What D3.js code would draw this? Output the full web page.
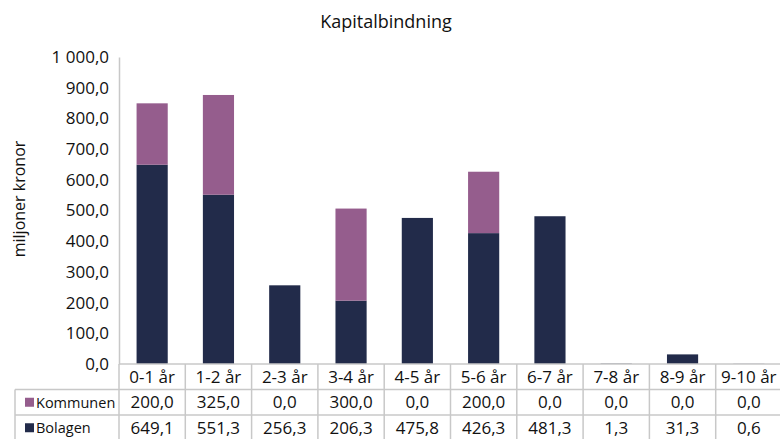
<!DOCTYPE html>
<html>
<head>
<meta charset="utf-8">
<script src="https://cdn.jsdelivr.net/npm/d3@7"></script>
<style>
  body { margin: 0; background: #fff; }
  text { font-family: "Open Sans", sans-serif; fill: #111; }
</style>
</head>
<body>
<script>
// data
var categories = ["0-1 år", "1-2 år", "2-3 år", "3-4 år", "4-5 år", "5-6 år", "6-7 år", "7-8 år", "8-9 år", "9-10 år"];
var bolagen = [649.1, 551.3, 256.3, 206.3, 475.8, 426.3, 481.3, 1.3, 31.3, 0.6];
var kommunen = [200.0, 325.0, 0.0, 300.0, 0.0, 200.0, 0.0, 0.0, 0.0, 0.0];
var yTicks = [0, 100, 200, 300, 400, 500, 600, 700, 800, 900, 1000];

var fullWidth = 780;
var fullHeight = 439;
var margin = {top: 57, left: 119, right: -2, bottom: 75};
var rowH = 25.5;
var colors = {Bolagen: "#222b4a", Kommunen: "#955d8d"};
var grid = "#c8c8c8";
var fontSize = "17px";

// number format with comma decimal and space thousands
var fmt = d3.formatLocale({decimal: ",", thousands: " ", grouping: [3], currency: ["", ""]}).format(",.1f");

var svg = d3.select("body").append("svg")
            .attr("width", fullWidth)
            .attr("height", fullHeight);

var xScale = d3.scaleBand()
               .domain(categories)
               .range([margin.left, fullWidth - margin.right])
               .paddingInner(0.53)
               .paddingOuter(0.265);

var bandScale = d3.scaleBand()
                  .domain(categories)
                  .range([margin.left, fullWidth - margin.right]);

var yScale = d3.scaleLinear()
               .domain([0, 1000])
               .range([fullHeight - margin.bottom, margin.top]);

// title
svg.append("text")
   .attr("x", 386)
   .attr("y", 28)
   .attr("text-anchor", "middle")
   .style("font-size", "18px")
   .text("Kapitalbindning");

// y axis title
svg.append("text")
   .attr("transform", "rotate(-90)")
   .attr("x", -199)
   .attr("y", 25)
   .attr("text-anchor", "middle")
   .style("font-size", "16px")
   .text("miljoner kronor");

// y axis
var yAxis = d3.axisLeft(yScale)
              .tickValues(yTicks)
              .tickSize(0)
              .tickPadding(10)
              .tickFormat(fmt);

var yG = svg.append("g")
            .attr("transform", "translate(" + margin.left + ",0)")
            .call(yAxis);
yG.select(".domain").attr("stroke", grid).attr("stroke-width", 1.5);
yG.selectAll("text").style("font-size", fontSize).style("font-family", "Open Sans, sans-serif");

// stacked bars
var stackData = categories.map(function(c, i) {
    return {cat: c, Bolagen: bolagen[i], Kommunen: kommunen[i]};
});
var stack = d3.stack().keys(["Bolagen", "Kommunen"])(stackData);

svg.selectAll(".series")
   .data(stack)
   .enter()
   .append("g")
   .attr("fill", function(d) { return colors[d.key]; })
   .selectAll("rect")
   .data(function(d) { return d; })
   .enter()
   .append("rect")
   .attr("x", function(d) { return xScale(d.data.cat); })
   .attr("width", xScale.bandwidth())
   .attr("y", function(d) { return yScale(d[1]); })
   .attr("height", function(d) { return yScale(d[0]) - yScale(d[1]); });

// data table
var y0 = yScale(0);
var table = svg.append("g");
var tableLeft = 15;

// horizontal lines
table.append("line")
     .attr("x1", margin.left).attr("x2", fullWidth)
     .attr("y1", y0).attr("y2", y0)
     .attr("stroke", grid).attr("stroke-width", 1.5);
[1, 2].forEach(function(r) {
    table.append("line")
         .attr("x1", tableLeft).attr("x2", fullWidth)
         .attr("y1", y0 + r * rowH).attr("y2", y0 + r * rowH)
         .attr("stroke", grid).attr("stroke-width", 1.5);
});

// vertical lines
categories.forEach(function(c) {
    table.append("line")
         .attr("x1", bandScale(c)).attr("x2", bandScale(c))
         .attr("y1", y0).attr("y2", fullHeight)
         .attr("stroke", grid).attr("stroke-width", 1.5);
});
table.append("line")
     .attr("x1", tableLeft).attr("x2", tableLeft)
     .attr("y1", y0 + rowH).attr("y2", fullHeight)
     .attr("stroke", grid).attr("stroke-width", 1.5);

// category header
table.selectAll(".cat")
     .data(categories)
     .enter()
     .append("text")
     .attr("x", function(d) { return bandScale(d) + bandScale.bandwidth() / 2; })
     .attr("y", y0 + rowH / 2 + 6)
     .attr("text-anchor", "middle")
     .style("font-size", fontSize)
     .text(function(d) { return d; });

// rows
var rows = [{name: "Kommunen", values: kommunen}, {name: "Bolagen", values: bolagen}];
rows.forEach(function(row, r) {
    var cy = y0 + (r + 1) * rowH + rowH / 2;
    table.append("rect")
         .attr("x", tableLeft + 10).attr("y", cy - 4.5)
         .attr("width", 9).attr("height", 9)
         .attr("fill", colors[row.name]);
    table.append("text")
         .attr("x", tableLeft + 21).attr("y", cy + 5.5)
         .style("font-size", "14.5px")
         .text(row.name);
    table.selectAll(".v" + r)
         .data(row.values)
         .enter()
         .append("text")
         .attr("x", function(d, i) { return bandScale(categories[i]) + bandScale.bandwidth() / 2; })
         .attr("y", cy + 6)
         .attr("text-anchor", "middle")
         .style("font-size", fontSize)
         .text(function(d) { return fmt(d); });
});
</script>
</body>
</html>
